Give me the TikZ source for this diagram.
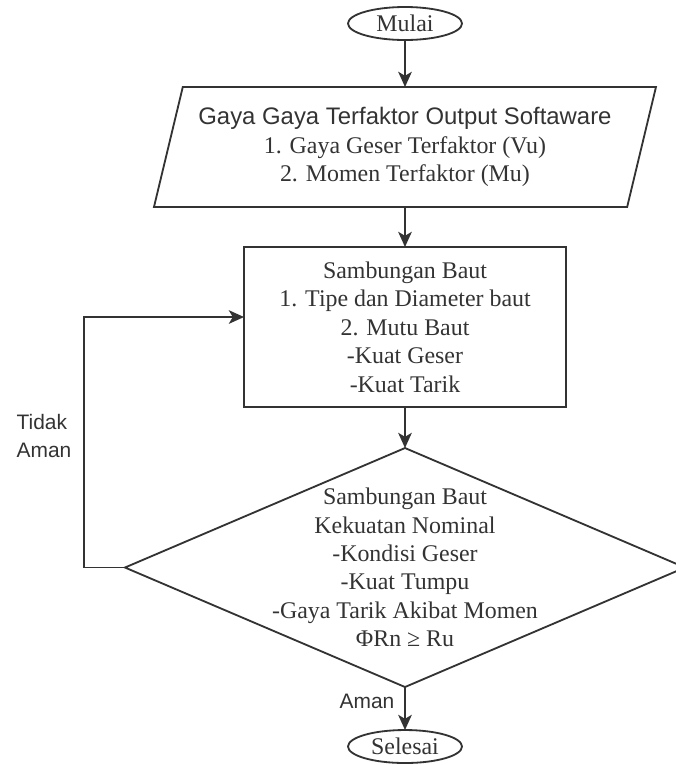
\documentclass[tikz,border=0pt]{standalone}
\usepackage{fontspec}
\setmainfont{Liberation Serif}
\setsansfont{Liberation Sans}
\usetikzlibrary{arrows.meta,positioning,shapes.geometric}
\definecolor{ink}{HTML}{333333}

\begin{document}
\begin{tikzpicture}[
    node distance=1cm,
    every node/.style={font=\fontsize{17}{20.25}\selectfont, text=ink, outer sep=0pt},
    terminal/.style={draw=ink, line width=1.3pt, ellipse, minimum width=2.85cm, minimum height=0.825cm, inner sep=0pt},
    data/.style={draw=ink, line width=1.3pt, trapezium, trapezium left angle=72, trapezium right angle=108, trapezium stretches body, minimum width=12.55cm, minimum height=3cm, align=center, inner xsep=2pt},
    process/.style={draw=ink, line width=1.3pt, minimum width=8.05cm, minimum height=4cm, align=center},
    decision/.style={draw=ink, line width=1.3pt, diamond, minimum width=14cm, minimum height=5.975cm, inner sep=0pt},
    answer/.style={font=\fontsize{14.9}{19.9}\selectfont\sffamily, align=left},
    flow/.style={-{Stealth[length=0.38cm, width=0.34cm, inset=0.1cm]}, draw=ink, line width=1.3pt}
]
\useasboundingbox (0,0) rectangle (16.9,-19.125);
\node[terminal] (mulai) at (10.125,-0.5875) {Mulai};
\node[data, below=1.175cm of mulai] (gaya) {{\sffamily Gaya Gaya Terfaktor Output Softaware}\\1. Gaya Geser Terfaktor (Vu)\\2. Momen Terfaktor (Mu)};
\node[process, below=of gaya] (baut) {Sambungan Baut\\1. Tipe dan Diameter baut\\2. Mutu Baut\\-Kuat Geser\\-Kuat Tarik};
\node[decision, below=1.025cm of baut, label={[align=center]center:{Sambungan Baut\\Kekuatan Nominal\\-Kondisi Geser\\-Kuat Tumpu\\-Gaya Tarik Akibat Momen\\ΦRn ≥ Ru}}] (cek) {};
\node[terminal, below=1.075cm of cek] (selesai) {Selesai};
\draw[flow] (mulai) -- (gaya);
\draw[flow] (gaya) -- (baut);
\draw[flow] (baut) -- (cek);
\draw[flow] (cek) -- node[answer, left=0.15cm, pos=0.33] {Aman} (selesai);
\draw[flow] (cek.west) -- ++(-1.025,0) |- node[answer, left=0.2cm, pos=0.262] {Tidak\\Aman} ([yshift=0.25cm]baut.west);
\end{tikzpicture}
\end{document}
